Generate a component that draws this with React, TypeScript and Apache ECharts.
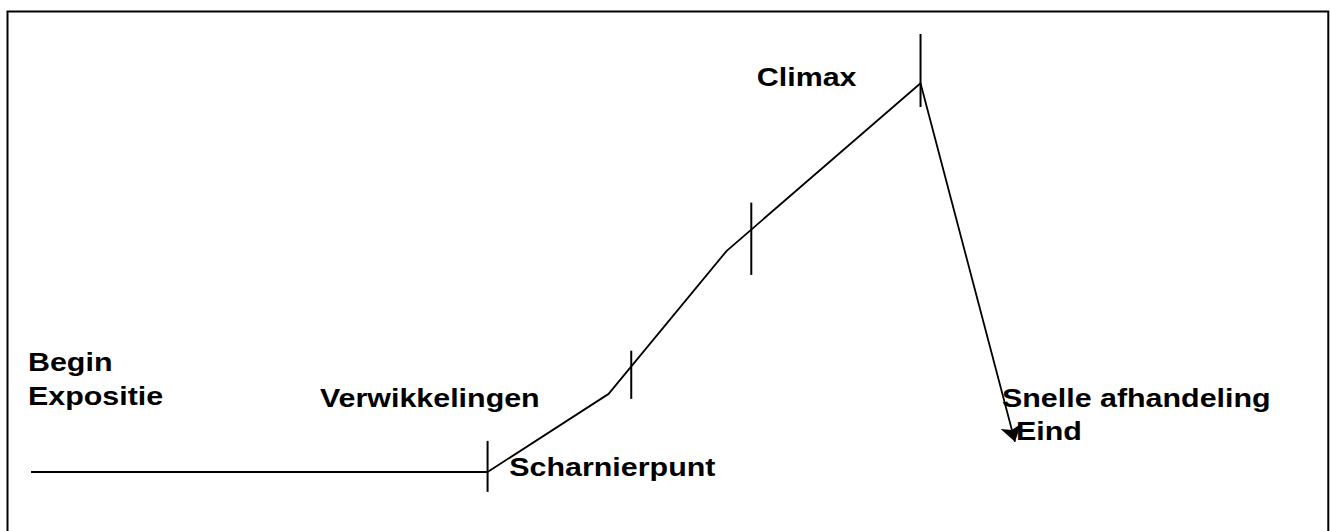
import React, { useEffect, useRef } from "react";
import * as echarts from "echarts";

// Story-arc path (x: story progress 0-100, y: tension 0-100)
const pathX = [0, 46.4, 58.7, 70.7, 90.4];
const pathY = [0, 0, 20.1, 56.9, 100];
// Final falling segment with arrow
const endX = [90.4, 100];
const endY = [100, 7.8];
// Vertical phase markers
const markerX = [46.4, 61.0, 73.2, 90.4];
const markerLow = [-5.1, 18.8, 50.7, 93.9];
const markerHigh = [8.0, 31.2, 69.3, 112.7];
// Annotation texts
const labels = [
  "Begin",
  "Expositie",
  "Verwikkelingen",
  "Scharnierpunt",
  "Climax",
  "Snelle afhandeling",
  "Eind",
];

export default function App() {
  const ref = useRef<HTMLDivElement>(null);
  useEffect(() => {
    if (!ref.current) return;
    const chart = echarts.init(ref.current, null, { renderer: "svg" });
    const font = "'Liberation Sans', Arial, sans-serif";
    const labelPos: [number, number][] = [
      [28, 362],
      [28, 396],
      [320, 397.5],
      [509.3, 467],
      [756.8, 77],
      [1002, 397.5],
      [1016, 431],
    ];
    const series: any[] = [
      {
        type: "line",
        data: pathX.map((x, i) => [x, pathY[i]]),
        symbol: "none",
        clip: false,
        lineStyle: { color: "#000", width: 1.8 },
      },
      {
        type: "lines",
        coordinateSystem: "cartesian2d",
        clip: false,
        symbol: ["none", "arrow"],
        symbolSize: 16,
        data: [{ coords: endX.map((x, i) => [x, endY[i]]) }],
        lineStyle: { color: "#000", width: 1.8, opacity: 1 },
      },
      ...markerX.map((x, i) => ({
        type: "line",
        data: [
          [x, markerLow[i]],
          [x, markerHigh[i]],
        ],
        symbol: "none",
        clip: false,
        lineStyle: { color: "#000", width: 2 },
      })),
    ];
    chart.setOption({
      animation: false,
      backgroundColor: "#fff",
      grid: { left: 31, right: 315, top: 83.3, bottom: 59 },
      xAxis: { type: "value", min: 0, max: 100, show: false },
      yAxis: { type: "value", min: 0, max: 100, show: false },
      series,
      graphic: [
        {
          type: "rect",
          shape: { x: 7.5, y: 11.5, width: 1320.8, height: 600 },
          style: { fill: "none", stroke: "#000", lineWidth: 2 },
          silent: true,
        },
        ...labels.map((t, i) => ({
          type: "text",
          x: labelPos[i][0],
          y: labelPos[i][1],
          scaleX: 1.17,
          style: {
            text: t,
            fontFamily: font,
            fontWeight: "bold",
            fontSize: 26,
            fill: "#000",
            align: "left",
            verticalAlign: "middle",
          },
        })),
      ],
    });
    return () => chart.dispose();
  }, []);
  return (
    <div
      ref={ref}
      style={{ position: "fixed", left: 0, top: 0, width: 1330, height: 531 }}
    />
  );
}
